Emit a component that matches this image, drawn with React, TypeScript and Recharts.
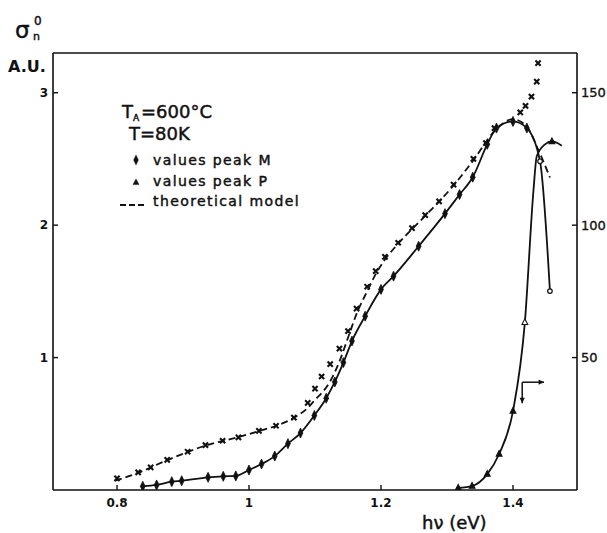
import React from 'react';
import { ComposedChart, Line, Scatter, XAxis, YAxis, ReferenceLine } from 'recharts';

// Photon energy hν (eV) and σn0 (A.U.) of the "x" points
const crossE = [0.800, 0.832, 0.851, 0.876, 0.907, 0.934, 0.960, 0.984, 1.015, 1.041, 1.068, 1.089, 1.100, 1.110, 1.123, 1.137, 1.150, 1.163, 1.179, 1.192, 1.206, 1.226, 1.247, 1.267, 1.288, 1.310, 1.340, 1.359, 1.372, 1.411, 1.419, 1.428, 1.436, 1.438];
const crossV = [0.088, 0.133, 0.171, 0.228, 0.289, 0.339, 0.372, 0.397, 0.447, 0.485, 0.546, 0.658, 0.766, 0.857, 0.950, 1.068, 1.200, 1.369, 1.535, 1.653, 1.761, 1.867, 1.978, 2.076, 2.180, 2.306, 2.500, 2.620, 2.733, 2.851, 2.901, 2.971, 3.084, 3.223];

// Theoretical model (dashed curve), left axis
const theoryE = [0.797, 0.832, 0.876, 0.934, 0.984, 1.015, 1.041, 1.068, 1.089, 1.100, 1.123, 1.137, 1.150, 1.163, 1.179, 1.192, 1.206, 1.226, 1.267, 1.310, 1.340, 1.372, 1.400, 1.420, 1.440, 1.456];
const theoryV = [0.070, 0.130, 0.225, 0.335, 0.400, 0.445, 0.485, 0.545, 0.620, 0.680, 0.820, 0.970, 1.150, 1.330, 1.500, 1.630, 1.740, 1.860, 2.070, 2.300, 2.490, 2.710, 2.800, 2.750, 2.550, 2.360];

// Peak M values, left axis (A.U.)
const peakME = [0.839, 0.860, 0.883, 0.898, 0.938, 0.961, 0.980, 1.000, 1.019, 1.039, 1.059, 1.078, 1.099, 1.117, 1.130, 1.143, 1.156, 1.176, 1.200, 1.219, 1.257, 1.297, 1.319, 1.339, 1.361, 1.375, 1.400, 1.421, 1.441, 1.456];
const peakMV = [0.028, 0.038, 0.063, 0.070, 0.096, 0.103, 0.106, 0.151, 0.196, 0.256, 0.350, 0.430, 0.563, 0.693, 0.816, 0.962, 1.125, 1.313, 1.515, 1.615, 1.841, 2.087, 2.231, 2.362, 2.610, 2.733, 2.783, 2.733, 2.482, 1.502];

// Peak P values, right axis
const peakPE = [1.317, 1.338, 1.361, 1.379, 1.400, 1.418, 1.431, 1.436, 1.448, 1.459, 1.474];
const peakPV = [0.8, 1.5, 6.0, 13.6, 29.8, 63.3, 113.0, 126.0, 130.4, 131.6, 130.0];
// indices of peakP entries that carry a measured-point symbol
const peakPMarked = [0, 1, 2, 3, 4, 5, 9];

const xTicks = [0.8, 1, 1.2, 1.4];
const xTickLabels = ['0.8', '1', '1.2', '1.4'];
const leftTicks = [1, 2, 3];
const rightTicks = [50, 100, 150];

const crossData = crossE.map((e, i) => ({ e, v: crossV[i] }));
const theoryData = theoryE.map((e, i) => ({ e, v: theoryV[i] }));
const peakMData = peakME.map((e, i) => ({ e, v: peakMV[i] }));
const peakPData = peakPE.map((e, i) => ({ e, v: peakPV[i] }));

const INK = '#111';
const FONT = '"DejaVu Sans", sans-serif';

const BottomTick = (p: any) => {
  const { x, y, payload } = p;
  const idx = xTicks.indexOf(payload.value);
  return (
    <g>
      <line x1={x} x2={x} y1={y} y2={y - 5} stroke={INK} strokeWidth={1.4} />
      <text x={x} y={y + 17} textAnchor="middle" fontFamily={FONT} fontSize={12} fontWeight="bold" fill={INK}>
        {idx >= 0 ? xTickLabels[idx] : payload.value}
      </text>
    </g>
  );
};

const LeftTick = (p: any) => {
  const { x, y, payload } = p;
  return (
    <g>
      <line x1={x} x2={x + 5} y1={y} y2={y} stroke={INK} strokeWidth={1.4} />
      <text x={x - 5} y={y} dy="0.35em" textAnchor="end" fontFamily={FONT} fontSize={12} fontWeight="bold" fill={INK}>
        {payload.value}
      </text>
    </g>
  );
};

const RightTick = (p: any) => {
  const { x, y, payload } = p;
  return (
    <g>
      <line x1={x - 5} x2={x} y1={y} y2={y} stroke={INK} strokeWidth={1.4} />
      <text x={x + 4} y={y} dy="0.35em" textAnchor="start" fontFamily={FONT} fontSize={13} fill={INK} stroke={INK} strokeWidth={0.35}>
        {payload.value}
      </text>
    </g>
  );
};

const CrossShape = (p: any) => {
  const { cx, cy } = p;
  const s = 2.6;
  return (
    <path
      d={`M${cx - s},${cy - s}L${cx + s},${cy + s}M${cx + s},${cy - s}L${cx - s},${cy + s}`}
      stroke={INK}
      strokeWidth={2.1}
      fill="none"
    />
  );
};

const diamond = (cx: number, cy: number) =>
  `M${cx},${cy - 5}L${cx + 2.4},${cy}L${cx},${cy + 5}L${cx - 2.4},${cy}Z`;

const renderMDot = (p: any) => {
  const { cx, cy, index } = p;
  if (cx == null || cy == null) return <g key={`m${index}`} />;
  if (index >= peakME.length - 2) {
    return <circle key={`m${index}`} cx={cx} cy={cy} r={2.3} fill="#fff" stroke={INK} strokeWidth={1.2} />;
  }
  return <path key={`m${index}`} d={diamond(cx, cy)} fill={INK} stroke={INK} strokeWidth={0.8} />;
};

const renderPDot = (p: any) => {
  const { cx, cy, index } = p;
  if (cx == null || cy == null || !peakPMarked.includes(index)) return <g key={`p${index}`} />;
  const hollow = index === 5;
  return (
    <path
      key={`p${index}`}
      d={`M${cx},${cy - 3.5}L${cx + 2.9},${cy + 2.2}L${cx - 2.9},${cy + 2.2}Z`}
      fill={hollow ? '#fff' : INK}
      stroke={INK}
      strokeWidth={1.1}
    />
  );
};

const arrowShape = (p: any) => {
  const { x1, y1, x2, y2 } = p;
  const ang = Math.atan2(y2 - y1, x2 - x1);
  const L = 6;
  const a1 = ang + Math.PI - 0.45;
  const a2 = ang + Math.PI + 0.45;
  return (
    <g>
      <line x1={x1} y1={y1} x2={x2} y2={y2} stroke={INK} strokeWidth={1.5} />
      <path
        d={`M${x2},${y2}L${x2 + L * Math.cos(a1)},${y2 + L * Math.sin(a1)}L${x2 + L * Math.cos(a2)},${y2 + L * Math.sin(a2)}Z`}
        fill={INK}
      />
    </g>
  );
};

export default function App() {
  return (
    <div style={{ position: 'absolute', left: 0, top: 0, width: 607, height: 533, background: '#fff' }}>
      <ComposedChart width={607} height={533} margin={{ top: 53, right: 0, bottom: 0, left: 0 }}>
        <XAxis
          dataKey="e"
          type="number"
          domain={[0.703, 1.497]}
          allowDataOverflow
          ticks={xTicks}
          tick={<BottomTick />}
          tickLine={false}
          tickSize={0}
          tickMargin={0}
          height={43}
          axisLine={{ stroke: INK, strokeWidth: 1.6 }}
        />
        <YAxis
          yAxisId="l"
          type="number"
          domain={[0, 3.3]}
          allowDataOverflow
          ticks={leftTicks}
          tick={<LeftTick />}
          tickLine={false}
          tickSize={0}
          tickMargin={0}
          width={53}
          axisLine={{ stroke: INK, strokeWidth: 1.6 }}
        />
        <YAxis
          yAxisId="r"
          orientation="right"
          type="number"
          domain={[0, 165]}
          allowDataOverflow
          ticks={rightTicks}
          tick={<RightTick />}
          tickLine={false}
          tickSize={0}
          tickMargin={0}
          width={30}
          axisLine={{ stroke: INK, strokeWidth: 1.6 }}
        />
        <ReferenceLine yAxisId="l" y={3.3} stroke={INK} strokeWidth={1.6} ifOverflow="visible" />

        <Line
          yAxisId="l"
          data={theoryData}
          dataKey="v"
          type="monotone"
          stroke={INK}
          strokeWidth={1.8}
          strokeDasharray="7 4"
          dot={false}
          isAnimationActive={false}
        />
        <Scatter yAxisId="l" data={crossData} dataKey="v" shape={<CrossShape />} isAnimationActive={false} />
        <Line
          yAxisId="l"
          data={peakMData}
          dataKey="v"
          type="monotone"
          stroke={INK}
          strokeWidth={1.8}
          dot={renderMDot}
          isAnimationActive={false}
        />
        <Line
          yAxisId="r"
          data={peakPData}
          dataKey="v"
          type="monotone"
          stroke={INK}
          strokeWidth={1.8}
          dot={renderPDot}
          isAnimationActive={false}
        />

        {/* corner arrow: peak P refers to the right-hand scale */}
        <ReferenceLine yAxisId="l" segment={[{ x: 1.414, y: 0.814 }, { x: 1.447, y: 0.814 }]} shape={arrowShape} ifOverflow="visible" />
        <ReferenceLine yAxisId="l" segment={[{ x: 1.414, y: 0.814 }, { x: 1.414, y: 0.655 }]} shape={arrowShape} ifOverflow="visible" />
      </ComposedChart>

      <svg width={607} height={533} style={{ position: 'absolute', left: 0, top: 0, pointerEvents: 'none' }}>
        <g fontFamily={FONT} fill={INK} stroke={INK} strokeWidth={0.45}>
          {/* axis title */}
          <text x={15} y={38} fontSize={23}>σ</text>
          <text x={34} y={25} fontSize={12}>0</text>
          <text x={33} y={40} fontSize={11}>n</text>
          <text x={8} y={72} fontSize={16} fontWeight="bold" strokeWidth={0}>A.U.</text>

          {/* conditions */}
          <text x={122} y={118} fontSize={18}>T</text>
          <text x={133} y={121} fontSize={9}>A</text>
          <text x={141} y={118} fontSize={18}>=600°C</text>
          <text x={129} y={140} fontSize={18}>T=80K</text>

          {/* legend */}
          <path d={diamond(136, 160)} />
          <text x={153} y={165} fontSize={14} letterSpacing={1.4}>values peak M</text>
          <path d="M136,179L139,184.6L133,184.6Z" />
          <text x={153} y={186} fontSize={14} letterSpacing={1.4}>values peak P</text>
          <line x1={120} y1={205} x2={147} y2={205} strokeWidth={1.8} strokeDasharray="6 3" />
          <text x={153} y={206} fontSize={14} letterSpacing={1.4}>theoretical model</text>

          {/* x-axis title */}
          <text x={422} y={529} fontSize={18}>hν (eV)</text>
        </g>
      </svg>
    </div>
  );
}
